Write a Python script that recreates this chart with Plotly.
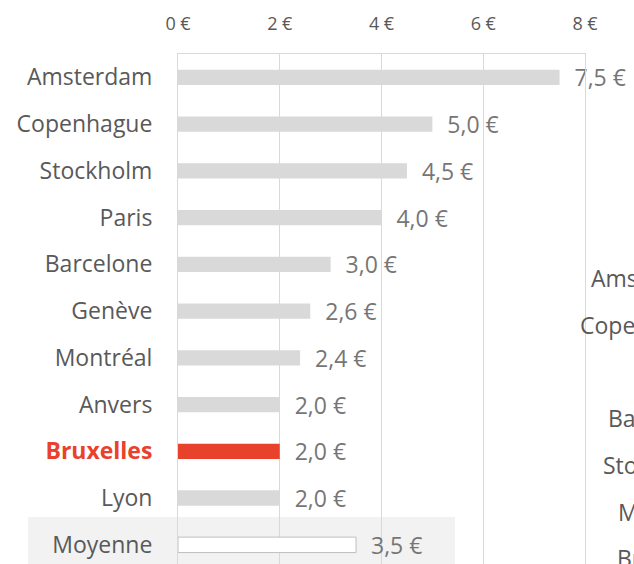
import plotly.graph_objects as go

cities = ["Amsterdam", "Copenhague", "Stockholm", "Paris", "Barcelone", "Genève",
          "Montréal", "Anvers", "Bruxelles", "Lyon", "Moyenne"]
prices = [7.5, 5.0, 4.5, 4.0, 3.0, 2.6, 2.4, 2.0, 2.0, 2.0, 3.5]
x_ticks = [0, 2, 4, 6, 8]
x_ticktext = ["0 €", "2 €", "4 €", "6 €", "8 €"]
highlight = "Bruxelles"
average = "Moyenne"

# labels of the neighbouring chart, cut by the right edge of the picture
side_labels = ["Amsterdam", "Copenhague", "Paris", "Barcelone", "Stockholm", "Montréal", "Bruxelles"]

GREY_BAR = "#D9D9D9"
RED = "#E8412C"
TXT = "#595959"
FONT = "Open Sans"
FS = 23

colors = []
line_w = []
for c in cities:
    if c == highlight:
        colors.append(RED)
        line_w.append(0)
    elif c == average:
        colors.append("#FFFFFF")
        line_w.append(1)
    else:
        colors.append(GREY_BAR)
        line_w.append(0)

ticktext = []
for c in cities:
    if c == highlight:
        ticktext.append(f"<b><span style='color:{RED}'>{c}</span></b>")
    else:
        ticktext.append(c)

fig = go.Figure()
fig.add_trace(go.Bar(
    x=prices, y=cities, orientation="h",
    width=0.33,
    marker=dict(color=colors, line=dict(color="#BFBFBF", width=line_w)),
    texttemplate="\u00a0\u00a0%{x:.1f} €",
    textposition="outside",
    constraintext="none",
    cliponaxis=False,
    textfont=dict(family=FONT, size=FS, color="#767676"),
    hoverinfo="skip",
))

W, H = 634, 564
L, R, T, B = 178, 49, 54, 0
pw = W - L - R
ph = H - T - B

def px_x(p):
    return (p - L) / pw

def px_y(p):
    return (H - B - p) / ph

shapes = [dict(type="rect", xref="paper", yref="paper",
               x0=px_x(28), x1=px_x(455), y0=-0.05, y1=px_y(517),
               fillcolor="#F2F2F2", line=dict(width=0), layer="below")]

side_y = [278, 325, 371.5, 418, 465, 511.5, 558]
annotations = []
for lab, yy in zip(side_labels, side_y):
    annotations.append(dict(text=lab, xref="paper", yref="paper",
                            x=px_x(718), y=px_y(yy), xanchor="right", yanchor="middle",
                            showarrow=False, font=dict(family=FONT, size=FS, color=TXT)))

fig.update_layout(
    width=W, height=H,
    margin=dict(l=L, r=R, t=T, b=B, pad=0),
    paper_bgcolor="white",
    plot_bgcolor="rgba(0,0,0,0)",
    separators=", ",
    showlegend=False,
    font=dict(family=FONT, color=TXT),
    shapes=shapes,
    annotations=annotations,
    xaxis=dict(
        side="top", range=[0, 8], tickmode="array", tickvals=x_ticks, ticktext=x_ticktext,
        showgrid=True, gridcolor="#D9D9D9", gridwidth=1,
        showline=True, linecolor="#D9D9D9", linewidth=1,
        zeroline=False, ticks="", ticklabelstandoff=16,
        tickfont=dict(family=FONT, size=18, color=TXT),
    ),
    yaxis=dict(
        type="category", categoryorder="array", categoryarray=cities,
        tickmode="array", tickvals=cities, ticktext=ticktext,
        range=[10.41, -0.5],
        showgrid=False, showline=True, mirror=True,
        linecolor="#D9D9D9", linewidth=1, zeroline=False,
        ticks="", ticklabelstandoff=20,
        tickfont=dict(family=FONT, size=FS, color=TXT),
    ),
)

fig.write_html("out.html",
               config={"displayModeBar": False},
               post_script="document.body.style.margin='0';document.body.style.overflow='hidden';")
